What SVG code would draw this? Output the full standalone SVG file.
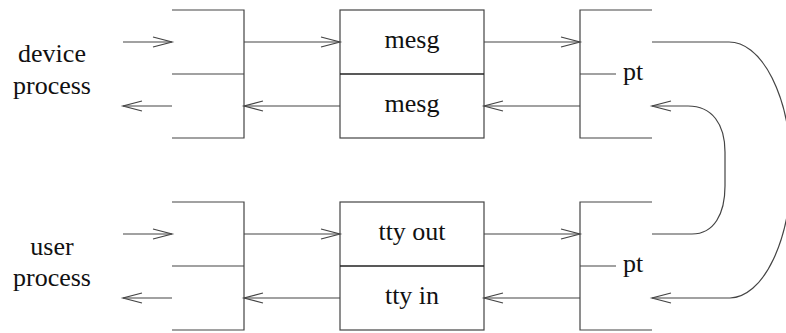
<svg xmlns="http://www.w3.org/2000/svg" width="786" height="333" viewBox="0 0 786 333">
<style>
.ln{stroke:#444;stroke-width:1.2;fill:none}
.sep{stroke:#222;stroke-width:1.6;fill:none}
.t{font-family:"Liberation Serif","Times New Roman",serif;font-size:26px;fill:#111}
.c{text-anchor:middle}
.ar{stroke:#444;stroke-width:1.2;fill:none;marker-end:url(#v)}
</style>
<defs>
<marker id="v" markerUnits="userSpaceOnUse" markerWidth="24" markerHeight="14" viewBox="-21 -7 24 14" refX="0" refY="0" orient="auto">
<path d="M-19,-5 L0,0 L-19,5" fill="none" stroke="#444" stroke-width="1.2"/>
</marker>
</defs>
<rect width="786" height="333" fill="#fff"/>
<g id="device-process">
<text class="t c" x="52" y="62">device</text>
<text class="t c" x="52" y="94">process</text>
</g>
<g id="user-process">
<text class="t c" x="52" y="255">user</text>
<text class="t c" x="52" y="286">process</text>
</g>
<g id="left-top">
<path class="ln" d="M172,10 H244 V138 H172 M172,74 H244"/>
</g>
<g id="left-bottom">
<path class="ln" d="M172,202 H244 V330 H172 M172,266 H244"/>
</g>
<g id="mesg-box">
<rect class="ln" x="340" y="10" width="144" height="128"/>
<line class="sep" x1="340" y1="74" x2="484" y2="74"/>
<text class="t c" x="412" y="48">mesg</text>
<text class="t c" x="412" y="112">mesg</text>
</g>
<g id="tty-box">
<rect class="ln" x="340" y="202" width="144" height="128"/>
<line class="sep" x1="340" y1="266" x2="484" y2="266"/>
<text class="t c" x="412" y="240">tty out</text>
<text class="t c" x="412" y="304">tty in</text>
</g>
<g id="pt-top">
<path class="ln" d="M652,10 H580 V138 H652 M580,74 H616"/>
<text class="t" x="623" y="80">pt</text>
</g>
<g id="pt-bottom">
<path class="ln" d="M652,202 H580 V330 H652 M580,266 H616"/>
<text class="t" x="623" y="272">pt</text>
</g>
<g id="connectors">
<line class="ar" x1="123" y1="42" x2="172" y2="42"/>
<line class="ar" x1="172" y1="106" x2="123" y2="106"/>
<line class="ar" x1="244" y1="42" x2="340" y2="42"/>
<line class="ar" x1="340" y1="106" x2="244" y2="106"/>
<line class="ar" x1="484" y1="42" x2="580" y2="42"/>
<line class="ar" x1="580" y1="106" x2="484" y2="106"/>
<line class="ar" x1="123" y1="234" x2="172" y2="234"/>
<line class="ar" x1="172" y1="298" x2="123" y2="298"/>
<line class="ar" x1="244" y1="234" x2="340" y2="234"/>
<line class="ar" x1="340" y1="298" x2="244" y2="298"/>
<line class="ar" x1="484" y1="234" x2="580" y2="234"/>
<line class="ar" x1="580" y1="298" x2="484" y2="298"/>
<path class="ar" d="M652,42 L728,42 A62,128 0 0 1 730,298 L652,298"/>
<path class="ar" d="M652,234 L692,234 C714,234 725,214 725,186 L725,152 C725,124 712,106 688,106 L652,106"/>
</g>
</svg>
